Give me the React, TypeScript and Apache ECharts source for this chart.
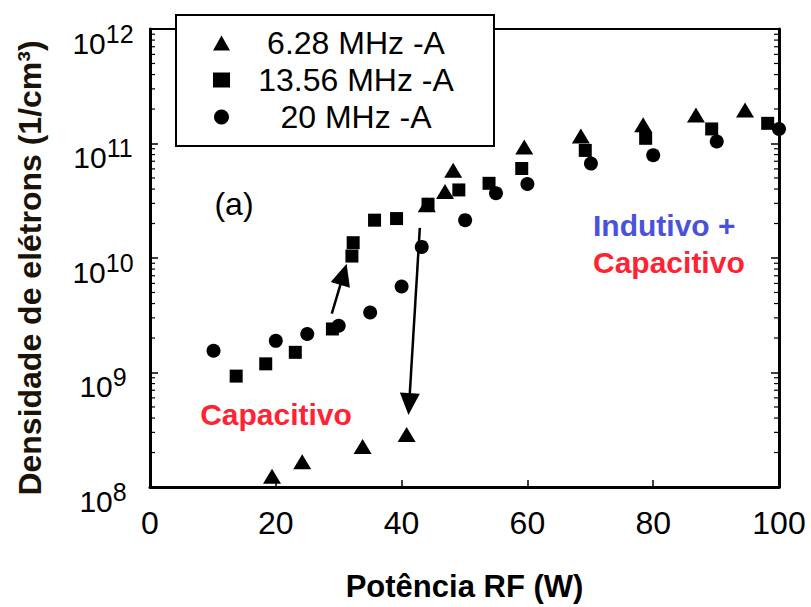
import React, { useEffect, useRef } from "react";
import * as echarts from "echarts";

const FONT = '"Liberation Sans", Arial, sans-serif';

// 6.28 MHz -A  (triangles): [Potência RF (W), densidade (1/cm3)]
const seriesNames = ["6.28 MHz -A", "13.56 MHz -A", "20 MHz -A"];
const tri628: [number, number][] = [
  [19.4, 1.24e8], [24.2, 1.66e8], [33.8, 2.26e8], [40.8, 2.87e8],
  [44.0, 2.92e10], [46.9, 3.8e10], [48.2, 5.85e10], [59.5, 9.3e10],
  [68.5, 1.16e11], [78.4, 1.46e11], [86.8, 1.77e11], [94.6, 1.96e11],
];
const sq1356: [number, number][] = [
  [13.7, 9.3e8], [18.4, 1.19e9], [23.1, 1.5e9], [29.0, 2.4e9],
  [32.1, 1.04e10], [32.3, 1.36e10], [35.7, 2.14e10], [39.2, 2.21e10],
  [44.2, 2.95e10], [49.1, 3.93e10], [53.9, 4.49e10], [59.1, 6.05e10],
  [69.2, 8.7e10], [78.8, 1.11e11], [89.3, 1.34e11], [98.2, 1.5e11],
];
const circ20: [number, number][] = [
  [10.1, 1.55e9], [20.0, 1.89e9], [25.0, 2.17e9], [30.0, 2.56e9],
  [35.0, 3.34e9], [40.0, 5.64e9], [43.2, 1.25e10], [50.1, 2.14e10],
  [55.0, 3.68e10], [60.0, 4.43e10], [70.1, 6.68e10], [80.0, 7.9e10],
  [90.1, 1.04e11], [100.0, 1.34e11],
];
// arrows: [start, end]
const arrowUp: [number, number][] = [[28.9, 3.27e9], [30.76, 7.2e9]];
const arrowDown: [number, number][] = [[42.9, 1.83e10], [41.2, 5.3e8]];

const xTicks = [0, 20, 40, 60, 80, 100];
const yMin = 1e8;
const yMax = 1e12;
const minorMult = [2, 3, 4, 5, 6, 7, 8, 9];
const minorDecades = [8, 9, 10, 11];

export default function App() {
  const ref = useRef<HTMLDivElement>(null);
  useEffect(() => {
    if (!ref.current) return;
    const chart = echarts.init(ref.current, undefined, { renderer: "svg" });
    const minorData: [number, number][] = [];
    minorDecades.forEach((d) =>
      minorMult.forEach((m) => minorData.push([0, m * Math.pow(10, d)]))
    );
    const markerStyle = { color: "#000", opacity: 1 };
    chart.setOption({
      animation: false,
      backgroundColor: "#fff",
      grid: {
        left: 150,
        right: 32,
        top: 29,
        bottom: 116,
        show: true,
        borderColor: "#000",
        borderWidth: 2,
      },
      legend: {
        left: 176,
        top: 15,
        orient: "vertical",
        selectedMode: false,
        backgroundColor: "#fff",
        borderColor: "#000",
        borderWidth: 2,
        padding: [12, 17, 13, 37],
        itemWidth: 17,
        itemHeight: 15,
        itemGap: 5,
        z: 10,
        data: [
          { name: seriesNames[0], icon: "triangle" },
          { name: seriesNames[1], icon: "rect" },
          { name: seriesNames[2], icon: "circle" },
        ],
        formatter: (n: string) => `{t|${n}}`,
        textStyle: {
          rich: {
            t: {
              width: 242,
              align: "center",
              fontSize: 32,
              lineHeight: 30,
              fontFamily: FONT,
              color: "#000",
            },
          },
        },
      },
      xAxis: [
        {
          type: "value",
          min: 0,
          max: 100,
          interval: 20,
          name: "Potência RF (W)",
          nameLocation: "middle",
          nameGap: 84,
          nameTextStyle: {
            fontSize: 31,
            fontWeight: "bold",
            fontFamily: FONT,
            color: "#000",
          },
          axisLine: { show: true, lineStyle: { color: "#000", width: 3 } },
          axisTick: { show: true, inside: true, length: 7, lineStyle: { color: "#000", width: 1.5 } },
          axisLabel: {
            fontSize: 32,
            fontFamily: FONT,
            color: "#000",
            margin: 20,
            formatter: (v: number) => (xTicks.includes(v) ? String(v) : ""),
          },
          splitLine: { show: false },
        },
      ],
      yAxis: [
        {
          type: "log",
          logBase: 10,
          min: yMin,
          max: yMax,
          splitNumber: 4,
          axisLine: { show: true, lineStyle: { color: "#000", width: 3 } },
          axisTick: { show: true, inside: true, length: 8, lineStyle: { color: "#000", width: 1.5 } },
          axisLabel: {
            align: "center",
            margin: 47,
            formatter: (v: number) => `{b|10}{e|${Math.round(Math.log10(v))}}`,
            rich: {
              b: { fontSize: 30, lineHeight: 30, padding: [28, 0, 0, 0], fontFamily: FONT, color: "#000" },
              e: { fontSize: 25, lineHeight: 25, padding: [7, 0, 0, 0], verticalAlign: "top", fontFamily: FONT, color: "#000" },
            },
          },
          splitLine: { show: false },
        },
        {
          type: "log",
          logBase: 10,
          min: yMin,
          max: yMax,
          splitNumber: 4,
          position: "right",
          axisLine: { show: true, lineStyle: { color: "#000", width: 3 } },
          axisTick: { show: true, inside: true, length: 8, lineStyle: { color: "#000", width: 1.5 } },
          axisLabel: { show: false },
          splitLine: { show: false },
        },
      ],
      series: [
        {
          name: seriesNames[0],
          type: "scatter",
          symbol: "triangle",
          symbolSize: [18, 15],
          itemStyle: markerStyle,
          data: tri628,
          z: 3,
          markLine: {
            silent: true,
            symbol: ["none", "triangle"],
            symbolSize: [20, 22],
            label: { show: false },
            itemStyle: { color: "#000" },
            lineStyle: { color: "#000", width: 2.5, type: "solid", opacity: 1 },
            data: [
              [{ coord: arrowUp[0] }, { coord: arrowUp[1] }],
              [{ coord: arrowDown[0] }, { coord: arrowDown[1] }],
            ],
          },
        },
        {
          name: seriesNames[1],
          type: "scatter",
          symbol: "rect",
          symbolSize: 13,
          itemStyle: markerStyle,
          data: sq1356,
          z: 3,
        },
        {
          name: seriesNames[2],
          type: "scatter",
          symbol: "circle",
          symbolSize: 14,
          itemStyle: markerStyle,
          data: circ20,
          z: 3,
        },
        {
          type: "custom",
          silent: true,
          clip: false,
          data: minorData,
          encode: { x: 0, y: 1 },
          renderItem: (params: any, api: any) => {
            const v = api.value(1);
            const pL = api.coord([0, v]);
            const pR = api.coord([100, v]);
            const st = { stroke: "#000", lineWidth: 1.2 };
            return {
              type: "group",
              children: [
                { type: "line", shape: { x1: pL[0], y1: pL[1], x2: pL[0] + 5, y2: pL[1] }, style: st },
                { type: "line", shape: { x1: pR[0], y1: pR[1], x2: pR[0] - 5, y2: pR[1] }, style: st },
              ],
            };
          },
        },
      ],
      graphic: [
        {
          type: "text",
          x: 30,
          y: 268,
          rotation: Math.PI / 2,
          style: {
            text: "Densidade de elétrons (1/cm³)",
            fontSize: 32,
            fontWeight: "bold",
            fontFamily: FONT,
            fill: "#1b1208",
            textAlign: "center",
            textVerticalAlign: "middle",
          },
        },
        {
          type: "text",
          x: 234,
          y: 204,
          style: { text: "(a)", fontSize: 32, fontFamily: FONT, fill: "#000", textAlign: "center", textVerticalAlign: "middle" },
        },
        {
          type: "text",
          x: 276,
          y: 414,
          style: { text: "Capacitivo", fontSize: 30, fontWeight: "bold", fontFamily: FONT, fill: "#ff2233", textAlign: "center", textVerticalAlign: "middle" },
        },
        {
          type: "text",
          x: 593,
          y: 225,
          style: { text: "Indutivo +", fontSize: 30, fontWeight: "bold", fontFamily: FONT, fill: "#4a52dc", textAlign: "left", textVerticalAlign: "middle" },
        },
        {
          type: "text",
          x: 593,
          y: 262,
          style: { text: "Capacitivo", fontSize: 30, fontWeight: "bold", fontFamily: FONT, fill: "#ff2233", textAlign: "left", textVerticalAlign: "middle" },
        },
      ],
    });
    return () => chart.dispose();
  }, []);
  return <div ref={ref} style={{ width: 811, height: 607, position: "absolute", left: 0, top: 0 }} />;
}
